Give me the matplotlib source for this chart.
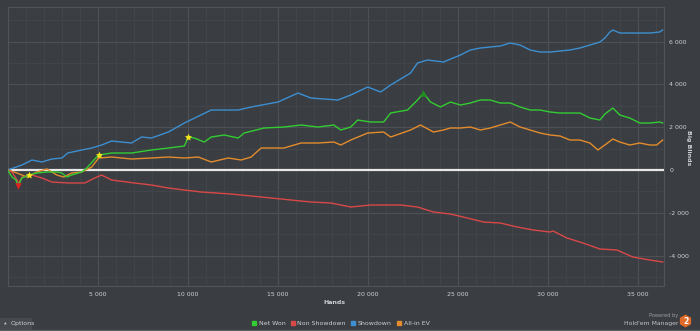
import matplotlib
matplotlib.use("Agg")
import matplotlib.pyplot as plt
from matplotlib.lines import Line2D
from matplotlib.patches import Rectangle, RegularPolygon
from matplotlib.ticker import MultipleLocator, FuncFormatter

# hands played vs. big blinds, one set of readings per series
showdown_hands = [0, 792, 1346, 1899, 2453, 3007, 3339, 4114, 4668, 5221, 5775, 6329, 6883, 7437,
                  7990, 8931, 9817, 11312, 12808, 13528, 15023, 16130, 16850, 18345, 19065, 20006,
                  20726, 21280, 22388, 22775, 23329, 24215, 25156, 25710, 26264, 27371, 27925,
                  28479, 29033, 29587, 30140, 30694, 31248, 31802, 32356, 32910, 33187, 33463,
                  33630, 34017, 34571, 35125, 35679, 36233, 36399]
showdown_bb = [0, 234, 467, 374, 514, 561, 794, 935, 1028, 1168, 1355, 1308, 1262, 1542,
               1495, 1776, 2196, 2804, 2804, 2944, 3178, 3598, 3364, 3271, 3505, 3879,
               3645, 3972, 4533, 5000, 5140, 5047, 5374, 5608, 5701, 5795, 5935,
               5841, 5608, 5514, 5514, 5561, 5608, 5701, 5841, 5981, 6168, 6449,
               6542, 6402, 6402, 6402, 6402, 6449, 6542]

net_won_hands = [0, 238, 460, 570, 792, 1179, 1622, 2176, 2730, 3007, 3283, 3560, 4114, 4391,
                 4945, 5055, 5775, 6329, 6883, 7990, 8931, 9817, 10039, 10371, 10925, 11312,
                 12032, 12808, 13140, 14247, 15355, 16296, 17237, 18123, 18511, 19065, 19452,
                 20172, 20892, 21280, 22221, 22775, 23107, 23495, 24048, 24602, 25156, 25710,
                 26264, 26817, 27371, 27925, 28479, 29033, 29587, 30140, 30694, 31248, 31802,
                 32356, 32910, 33187, 33630, 34017, 34571, 35125, 35679, 36233, 36399]
net_won_bb = [0, -327, -467, -748, -374, -234, -140, -93, -93, -140, -327, -234, -93, 93,
              607, 701, 794, 794, 794, 935, 1028, 1122, 1542, 1495, 1308, 1542,
              1636, 1495, 1729, 1963, 2009, 2103, 2009, 2103, 1869, 2009, 2336,
              2243, 2243, 2664, 2804, 3271, 3598, 3178, 2944, 3178, 3037, 3131,
              3271, 3271, 3131, 3131, 2944, 2804, 2804, 2710, 2664, 2664, 2664,
              2430, 2336, 2617, 2897, 2570, 2430, 2196, 2196, 2243, 2196]

non_showdown_hands = [0, 238, 626, 792, 1346, 1899, 2453, 3394, 4280, 4834, 5221, 5775, 7049,
                      7990, 8931, 9817, 10758, 12419, 13528, 14635, 15742, 16850, 17957, 19065,
                      20172, 21833, 22775, 23661, 24602, 25544, 26430, 27371, 28313, 29199,
                      30140, 30306, 31081, 31967, 32910, 33851, 34737, 35679, 36399]
non_showdown_bb = [0, -93, -607, -327, -234, -374, -561, -607, -607, -374, -234, -467, -607,
                   -701, -841, -935, -1028, -1122, -1215, -1308, -1402, -1495, -1542, -1729,
                   -1636, -1636, -1729, -1963, -2056, -2243, -2430, -2477, -2664, -2804,
                   -2897, -2850, -3178, -3411, -3692, -3738, -4066, -4206, -4299]

allin_ev_hands = [0, 515, 1069, 1622, 2176, 2730, 3117, 3560, 4114, 4668, 5055, 5775, 6883,
                  7990, 8931, 9817, 10592, 11312, 12253, 12974, 13528, 14082, 15355, 16296,
                  17237, 18123, 18511, 19065, 20006, 20892, 21280, 22388, 22941, 23661, 24215,
                  24602, 25156, 25710, 26264, 26817, 27371, 27925, 28479, 29033, 29587, 30140,
                  30694, 31248, 31802, 32356, 32799, 33187, 33630, 34017, 34571, 35125, 35679,
                  36066, 36399]
allin_ev_bb = [0, -140, -327, -93, 47, -234, -327, -140, -93, 140, 561, 607, 514,
               561, 607, 561, 607, 374, 561, 467, 607, 1028, 1028, 1262,
               1262, 1308, 1168, 1402, 1729, 1776, 1542, 1869, 2103, 1776, 1869,
               1963, 1963, 2009, 1869, 1963, 2103, 2243, 2009, 1869, 1729, 1636,
               1589, 1402, 1402, 1262, 935, 1168, 1449, 1308, 1168, 1262, 1168,
               1168, 1402]

# highlighted points on the net won line
star_hands = [1179, 5055, 10039]
star_bb = [-234, 701, 1542]
low_hand, low_bb = 570, -748
high_hand, high_bb = 23107, 3598

legend_labels = ["Net Won", "Non Showdown", "Showdown", "All-in EV"]

BG = "#3a3d41"
TXT = "#cfd1d3"
C_GREEN = "#33cc33"
C_RED = "#d94848"
C_BLUE = "#3d8fd1"
C_ORANGE = "#e38c2d"

fig = plt.figure(figsize=(7.0, 3.31), dpi=100, facecolor=BG)
ax = fig.add_axes([0.011, 0.136, 0.937, 0.843], facecolor=BG)

ax.set_xlim(0, 36450)
ax.set_ylim(-5420, 7620)


def thousands(v, pos):
    return f"{int(v):,}".replace(",", " ")


ax.xaxis.set_major_locator(MultipleLocator(5000))
ax.xaxis.set_minor_locator(MultipleLocator(1000))
ax.yaxis.set_major_locator(MultipleLocator(2000))
ax.yaxis.set_minor_locator(MultipleLocator(1000))
# no label at the origin on the hands axis
ax.xaxis.set_major_formatter(FuncFormatter(lambda v, p: "" if v == 0 else thousands(v, p)))
ax.yaxis.set_major_formatter(FuncFormatter(thousands))

ax.grid(which="major", color="#4d5054", lw=0.8)
ax.grid(which="minor", color="#43464a", lw=0.6)
ax.set_axisbelow(True)
for s in ax.spines.values():
    s.set_color("#505357")
    s.set_linewidth(0.8)

ax.yaxis.tick_right()
ax.tick_params(which="both", length=0, labelsize=4.5, colors=TXT)
ax.tick_params(axis="x", pad=4)
ax.tick_params(axis="y", pad=4)

ax.axhline(0, color="#e8e8e8", lw=1.6, zorder=3)

ax.plot(showdown_hands, showdown_bb, color=C_BLUE, lw=1.0, zorder=4)
ax.plot(allin_ev_hands, allin_ev_bb, color=C_ORANGE, lw=1.0, zorder=4)
ax.plot(non_showdown_hands, non_showdown_bb, color=C_RED, lw=1.0, zorder=4)
ax.plot(net_won_hands, net_won_bb, color=C_GREEN, lw=1.0, zorder=5)

ax.scatter(star_hands, star_bb, marker=(5, 1), s=28, color="#f2e51c", zorder=6, lw=0)
ax.scatter([low_hand], [low_bb], marker="v", s=22, color="#e02020", zorder=6, lw=0)
ax.scatter([high_hand], [high_bb], marker="^", s=22, color="#1f8f1f", zorder=6, lw=0)

fig.text(334 / 700, 1 - 303 / 331, "Hands", ha="center", va="center",
         fontsize=4.5, color=TXT, fontweight="bold")
fig.text(689 / 700, 1 - 148 / 331, "Big Blinds", ha="center", va="center",
         fontsize=4.5, color=TXT, fontweight="bold", rotation=270)

handles = [Line2D([], [], ls="none", marker="s", ms=2.6, color=c)
           for c in (C_GREEN, C_RED, C_BLUE, C_ORANGE)]
fig.legend(handles, legend_labels, loc="center", bbox_to_anchor=(341 / 700, 1 - 323 / 331),
           ncol=4, frameon=False, fontsize=4.5, labelcolor=TXT, handlelength=0.6,
           handletextpad=0.4, columnspacing=0.9)

# bottom bar: options button, separator, logo
fig.add_artist(Rectangle((0, 0.0), 32 / 700, 13 / 331, transform=fig.transFigure,
                         facecolor="#46494d", edgecolor="none"))
fig.text(5 / 700, 1 - 324 / 331, "▲", fontsize=2.5, color=TXT, ha="center", va="center")
fig.text(11 / 700, 1 - 324 / 331, "Options", fontsize=4.5, color=TXT, ha="left", va="center")
fig.add_artist(Line2D([0, 1], [1.2 / 331, 1.2 / 331], transform=fig.transFigure,
                      color="#5a5d61", lw=1.0))

fig.text(678 / 700, 1 - 316 / 331, "Powered by", fontsize=3.6, color="#9a9ca0",
         ha="right", va="center")
fig.text(678 / 700, 1 - 323 / 331, "Hold'em Manager", fontsize=4.4, color="#c4c6c8",
         ha="right", va="center")
fig.add_artist(RegularPolygon((6.855, (331 - 321) / 100), numVertices=6, radius=0.065,
                              orientation=0.0, transform=fig.dpi_scale_trans,
                              facecolor="#e06a28", edgecolor="none"))
fig.text(685.5 / 700, 1 - 321 / 331, "2", fontsize=5.5, color="white", fontweight="bold",
         ha="center", va="center")

fig.savefig("out.png", dpi=100, facecolor=BG)
